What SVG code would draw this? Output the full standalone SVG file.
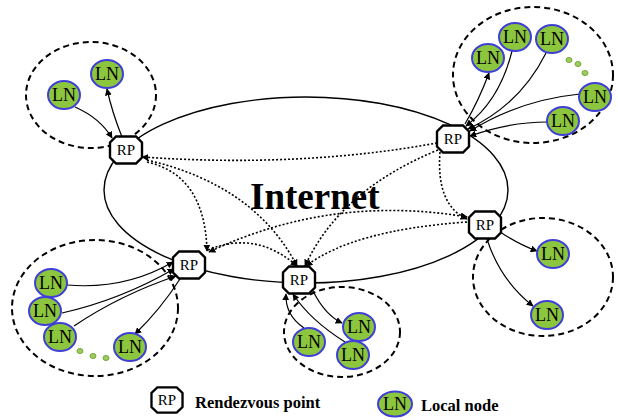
<svg xmlns="http://www.w3.org/2000/svg" xmlns:xlink="http://www.w3.org/1999/xlink" width="618" height="420" viewBox="0 0 618 420">
  <style>
    .cloud { fill: none; stroke: #000; stroke-width: 1.4; }
    .group { fill: none; stroke: #000; stroke-width: 2; stroke-dasharray: 6 4; }
    .link { fill: none; stroke: #000; stroke-width: 1.2; marker-end: url(#arrow); }
    .overlay { fill: none; stroke: #000; stroke-width: 1.6; stroke-dasharray: 2 2; marker-end: url(#arrow); }
    .both { marker-start: url(#arrow); }
    .rp { fill: #fff; stroke: #000; stroke-width: 2.4; }
    .ln { fill: #8cc63f; stroke: #3f3fd6; stroke-width: 2; }
    .dot { fill: #9ccc5c; stroke: #78a83a; stroke-width: 1; }
    .rpt { font-family: "Liberation Serif", "Times New Roman", serif; font-size: 15px; text-anchor: middle; fill: #000; }
    .lnt { font-family: "Liberation Serif", "Times New Roman", serif; font-size: 18px; text-anchor: middle; fill: #000; }
    .title { font-family: "Liberation Serif", "Times New Roman", serif; font-size: 37px; font-weight: bold; fill: #000; }
    .legend { font-family: "Liberation Serif", "Times New Roman", serif; font-size: 16.5px; font-weight: bold; fill: #000; }
  </style>
  <defs>
    <marker id="arrow" viewBox="0 0 10 10" refX="9" refY="5" markerWidth="7" markerHeight="7" markerUnits="userSpaceOnUse" orient="auto-start-reverse">
      <path d="M0,0 L10,5 L0,10 z" fill="#000"/>
    </marker>
    <path id="oct" d="M-10,-13.5 L10,-13.5 L16,-7.5 L16,7.5 L10,13.5 L-10,13.5 L-16,7.5 L-16,-7.5 Z"/>
  </defs>

  <rect width="618" height="420" fill="#fff"/>

  <!-- Internet backbone -->
  <ellipse class="cloud" cx="306" cy="190" rx="202" ry="93"/>
  <text class="title" x="250" y="209">Internet</text>

  <!-- local domains -->
  <g id="domains">
    <ellipse class="group" cx="91" cy="95" rx="65" ry="53"/>
    <ellipse class="group" cx="533" cy="75" rx="80" ry="68"/>
    <ellipse class="group" cx="95" cy="308" rx="83" ry="68"/>
    <ellipse class="group" cx="342" cy="332" rx="58" ry="45"/>
    <ellipse class="group" cx="543" cy="277" rx="70" ry="59"/>
  </g>

  <!-- connectors -->
  <g id="connectors">
    <!-- overlay links between rendezvous points -->
    <path class="overlay" d="M437,143 Q300,168 142,157"/>
    <path class="overlay" d="M147,162 Q205,175 207,251"/>
    <path class="overlay" d="M147,160 Q255,185 297,266"/>
    <path class="overlay" d="M438,150 Q340,190 305,266"/>
    <path class="overlay" d="M440,152 Q436,205 467,219"/>
    <path class="overlay both" d="M467,217 Q331,194 209,252"/>
    <path class="overlay" d="M467,222 Q353,230 306,266"/>
    <path class="overlay" d="M208,250 Q256,230 297,266"/>

    <!-- top-left domain -->
    <path class="link" d="M75,107 Q100,118 112,138"/>
    <path class="link" d="M122,137 Q112,112 107,89"/>

    <!-- top-right domain -->
    <path class="link" d="M465,124 Q479,100 489,73"/>
    <path class="link" d="M512,51 Q500,100 466,126"/>
    <path class="link" d="M546,53 Q520,105 468,129"/>
    <path class="link" d="M580,94 Q520,100 470,131"/>
    <path class="link" d="M547,122 Q510,122 470,136"/>

    <!-- bottom-left domain -->
    <path class="link" d="M67,285 Q125,290 173,262"/>
    <path class="link" d="M62,313 Q120,300 174,269"/>
    <path class="link" d="M74,326 Q120,295 176,276"/>
    <path class="link" d="M180,279 Q160,310 135,334"/>

    <!-- bottom domain -->
    <path class="link" d="M304,328 Q285,315 286,294"/>
    <path class="link" d="M345,342 Q310,320 293,294"/>
    <path class="link" d="M313,291 Q325,315 342,323"/>

    <!-- right domain -->
    <path class="link" d="M500,232 Q520,245 537,251"/>
    <path class="link" d="M487,239 Q500,280 533,306"/>
  </g>

  <!-- rendezvous points -->
  <g id="rp-topleft"><use xlink:href="#oct" class="rp" x="126" y="150"/><text class="rpt" x="126" y="155">RP</text></g>
  <g id="rp-topright"><use xlink:href="#oct" class="rp" x="453" y="139"/><text class="rpt" x="453" y="144">RP</text></g>
  <g id="rp-right"><use xlink:href="#oct" class="rp" x="485" y="225"/><text class="rpt" x="485" y="230">RP</text></g>
  <g id="rp-bottomleft"><use xlink:href="#oct" class="rp" x="189" y="265"/><text class="rpt" x="189" y="270">RP</text></g>
  <g id="rp-bottom"><use xlink:href="#oct" class="rp" x="299" y="280"/><text class="rpt" x="299" y="285">RP</text></g>

  <!-- local nodes: top-left -->
  <g id="ln-tl-1"><ellipse class="ln" cx="64" cy="95" rx="16" ry="14"/><text class="lnt" x="64" y="101">LN</text></g>
  <g id="ln-tl-2"><ellipse class="ln" cx="107" cy="74" rx="16" ry="14"/><text class="lnt" x="107" y="80">LN</text></g>

  <!-- local nodes: top-right -->
  <g id="ln-tr-1"><ellipse class="ln" cx="488" cy="58" rx="16" ry="14"/><text class="lnt" x="488" y="64">LN</text></g>
  <g id="ln-tr-2"><ellipse class="ln" cx="515" cy="37" rx="16" ry="14"/><text class="lnt" x="515" y="43">LN</text></g>
  <g id="ln-tr-3"><ellipse class="ln" cx="552" cy="39" rx="16" ry="14"/><text class="lnt" x="552" y="45">LN</text></g>
  <g id="ln-tr-4"><ellipse class="ln" cx="595" cy="97" rx="16" ry="14"/><text class="lnt" x="595" y="103">LN</text></g>
  <g id="ln-tr-5"><ellipse class="ln" cx="563" cy="121" rx="16" ry="14"/><text class="lnt" x="563" y="127">LN</text></g>
  <g id="more-tr">
    <ellipse class="dot" cx="569" cy="60" rx="3" ry="2.5"/>
    <ellipse class="dot" cx="578" cy="64" rx="3" ry="2.5"/>
    <ellipse class="dot" cx="585" cy="73" rx="3" ry="2.5"/>
  </g>

  <!-- local nodes: bottom-left -->
  <g id="ln-bl-1"><ellipse class="ln" cx="51" cy="283" rx="16" ry="14"/><text class="lnt" x="51" y="289">LN</text></g>
  <g id="ln-bl-2"><ellipse class="ln" cx="45" cy="311" rx="16" ry="14"/><text class="lnt" x="45" y="317">LN</text></g>
  <g id="ln-bl-3"><ellipse class="ln" cx="60" cy="337" rx="16" ry="14"/><text class="lnt" x="60" y="343">LN</text></g>
  <g id="ln-bl-4"><ellipse class="ln" cx="130" cy="347" rx="16" ry="14"/><text class="lnt" x="130" y="353">LN</text></g>
  <g id="more-bl">
    <ellipse class="dot" cx="80" cy="351" rx="3" ry="2.5"/>
    <ellipse class="dot" cx="93" cy="356" rx="3" ry="2.5"/>
    <ellipse class="dot" cx="106" cy="358" rx="3" ry="2.5"/>
  </g>

  <!-- local nodes: bottom -->
  <g id="ln-b-1"><ellipse class="ln" cx="309" cy="342" rx="16" ry="14"/><text class="lnt" x="309" y="348">LN</text></g>
  <g id="ln-b-2"><ellipse class="ln" cx="359" cy="327" rx="16" ry="14"/><text class="lnt" x="359" y="333">LN</text></g>
  <g id="ln-b-3"><ellipse class="ln" cx="353" cy="355" rx="16" ry="14"/><text class="lnt" x="353" y="361">LN</text></g>

  <!-- local nodes: right -->
  <g id="ln-r-1"><ellipse class="ln" cx="553" cy="254" rx="16" ry="14"/><text class="lnt" x="553" y="260">LN</text></g>
  <g id="ln-r-2"><ellipse class="ln" cx="547" cy="315" rx="16" ry="14"/><text class="lnt" x="547" y="321">LN</text></g>

  <!-- legend -->
  <g id="legend-rp">
    <use xlink:href="#oct" class="rp" x="167" y="400" transform="translate(167 400) scale(0.97 0.93) translate(-167 -400)"/>
    <text class="rpt" x="167" y="405">RP</text>
    <text class="legend" x="195" y="408">Rendezvous point</text>
  </g>
  <g id="legend-ln">
    <ellipse class="ln" cx="395" cy="404" rx="17" ry="12.5"/>
    <text class="lnt" x="395" y="410">LN</text>
    <text class="legend" x="421" y="411">Local node</text>
  </g>
</svg>
